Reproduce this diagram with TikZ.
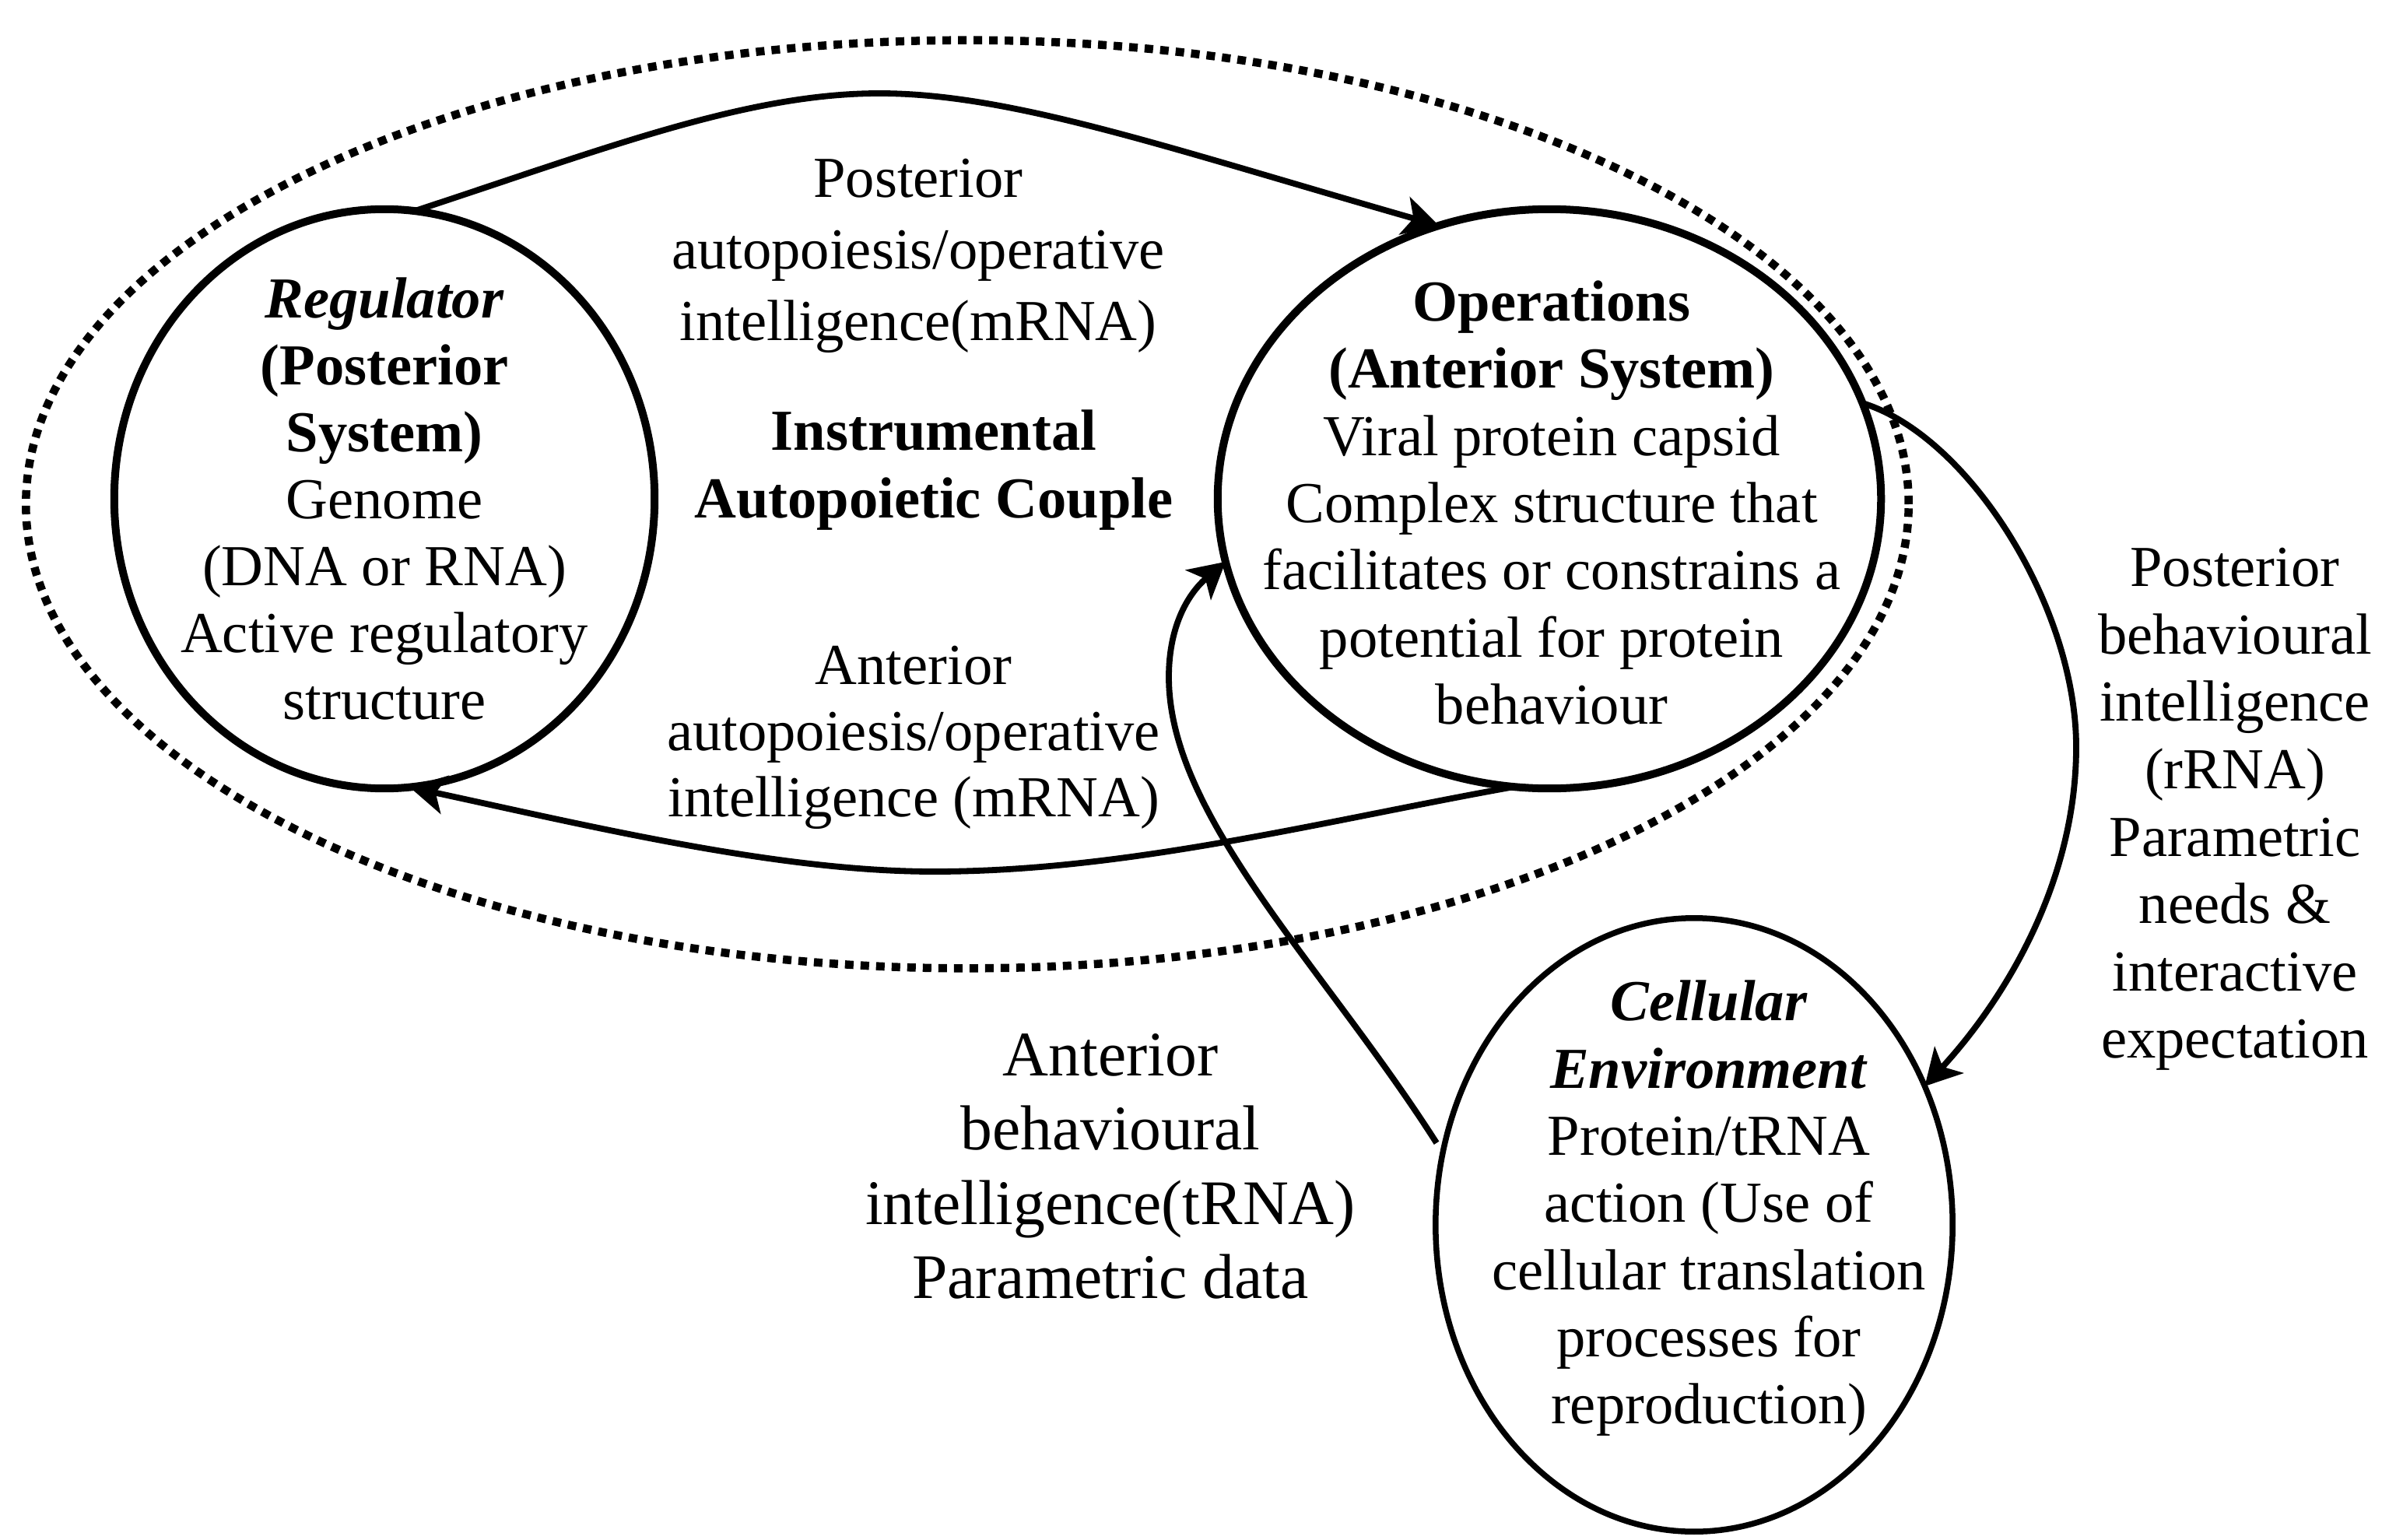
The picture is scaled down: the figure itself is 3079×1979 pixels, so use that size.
\documentclass[tikz,border=0pt]{standalone}
\usepackage{fontspec}
\setmainfont{Liberation Serif}
\usetikzlibrary{shapes.geometric,arrows.meta}
\begin{document}
\begin{tikzpicture}[x=0.01cm,y=-0.01cm,
  sysell/.style={ellipse,draw,line width=0.1cm,inner sep=0pt,outer sep=0pt},
  envell/.style={ellipse,draw,line width=0.075cm,inner sep=0pt,outer sep=0pt},
  coupleell/.style={ellipse,draw,line width=0.105cm,dash pattern=on 0.11cm off 0.09cm,inner sep=0pt,outer sep=0pt},
  txt/.style={align=center,inner sep=0pt},
  conn/.style={line width=0.078cm,-{Stealth[length=0.46cm,width=0.5cm,inset=0.12cm]}},
]
\useasboundingbox (0,0) rectangle (3079,1979);
% shapes
\node[coupleell, minimum width=24.18cm, minimum height=11.92cm] (couple) at (1243,648) {};
\node[sysell, minimum width=6.94cm, minimum height=7.44cm] (reg) at (494,641) {};
\node[sysell, minimum width=8.52cm, minimum height=7.44cm] (ops) at (1991,641) {};
\node[envell, minimum width=6.64cm, minimum height=7.88cm] (cell) at (2177,1574) {};
% texts
\node[txt, font=\fontsize{21.2}{24.47}\selectfont] (regt) at (494,641)
  {\textbf{\textit{Regulator}}\\\textbf{(Posterior}\\\textbf{System)}\\Genome\\(DNA or RNA)\\Active regulatory\\structure};
\node[txt, font=\fontsize{21.2}{24.55}\selectfont] (opst) at (1994,646)
  {\textbf{Operations}\\\textbf{(Anterior System)}\\Viral protein capsid\\Complex structure that\\facilitates or constrains a\\potential for protein\\behaviour};
\node[txt, font=\fontsize{21.2}{24.55}\selectfont] (cellt) at (2196,1553)
  {\textbf{\textit{Cellular}}\\\textbf{\textit{Environment}}\\Protein/tRNA\\action (Use of\\cellular translation\\processes for\\reproduction)};
\node[txt, font=\fontsize{21.2}{26.2}\selectfont] (postlab) at (1180,329)
  {Posterior\\autopoiesis/operative\\intelligence(mRNA)};
\node[txt, font=\fontsize{21.2}{24.5}\selectfont] (couplet) at (1200,604)
  {\textbf{Instrumental}\\\textbf{Autopoietic Couple}};
\node[txt, font=\fontsize{21.2}{24.2}\selectfont] (antlab) at (1174,948)
  {Anterior\\autopoiesis/operative\\intelligence (mRNA)};
\node[txt, font=\fontsize{21.2}{24.6}\selectfont] (rrnalab) at (2872,1040)
  {Posterior\\behavioural\\intelligence\\(rRNA)\\Parametric\\needs \&\\interactive\\expectation};
\node[txt, font=\fontsize{23.2}{27.1}\selectfont] (trnalab) at (1427,1499)
  {Anterior\\behavioural\\intelligence(tRNA)\\Parametric data};
% connectors
\draw[conn] (reg.84) .. controls (780,190) and (960,120) .. (1130,120)
  .. controls (1300,120) and (1500,190) .. (ops.112);
\draw[conn] (ops.263) .. controls (1700,1055) and (1450,1120) .. (1200,1120)
  .. controls (1000,1120) and (760,1062) .. (reg.275);
\draw[conn] (ops.17) .. controls (2530,560) and (2668,780) .. (2668,960)
  .. controls (2668,1130) and (2580,1280) .. (cell.31);
\draw[conn, shorten <=0.15cm] (cell.164) .. controls (1700,1240) and (1502,1050) .. (1502,870)
  .. controls (1502,800) and (1530,760) .. (ops.191);
\end{tikzpicture}
\end{document}
